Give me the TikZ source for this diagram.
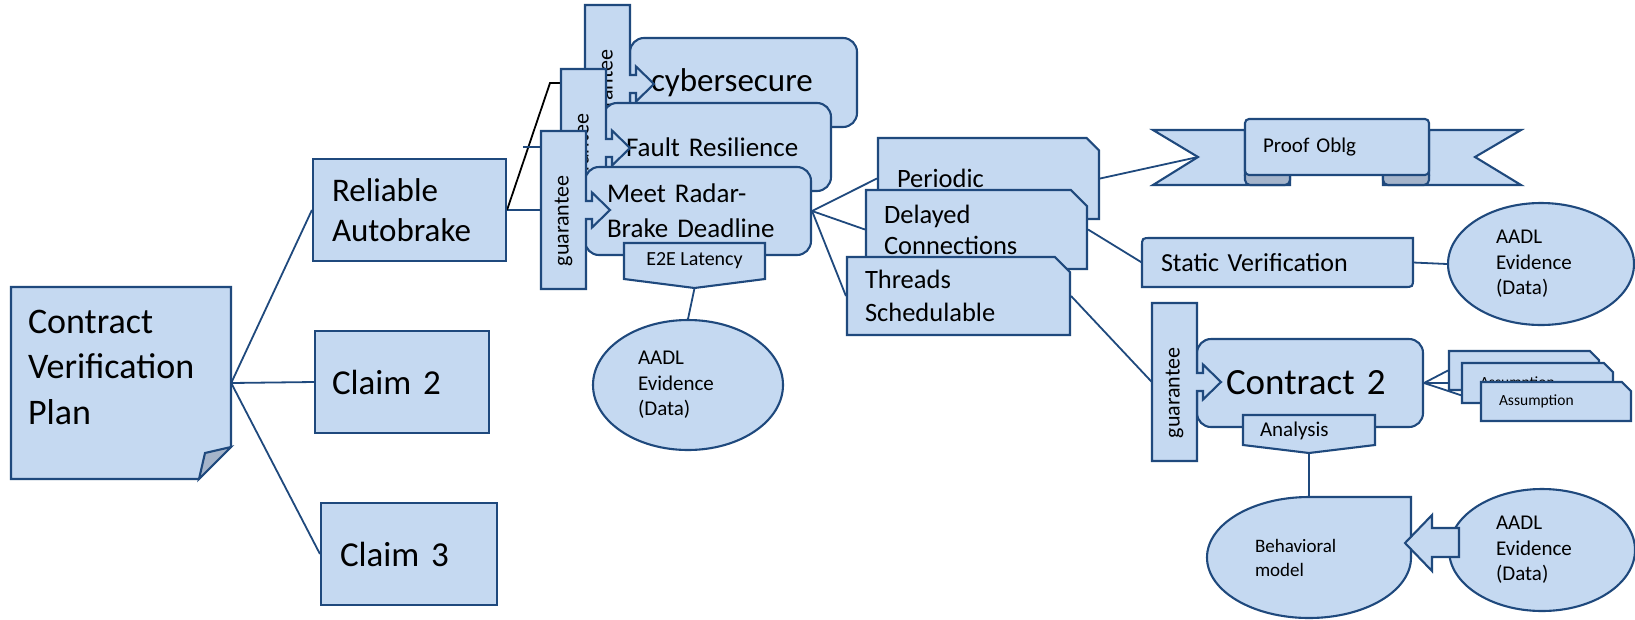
\documentclass[tikz,border=0pt]{standalone}
\usepackage{fontspec}
\setmainfont{Carlito}
\usetikzlibrary{shapes.geometric,shapes.misc,positioning}
\definecolor{boxfill}{RGB}{197,217,241}
\definecolor{edge}{RGB}{31,73,125}
\definecolor{foldfill}{RGB}{165,180,202}
\pgfdeclarelayer{background}
\pgfsetlayers{background,main}
\newcommand{\fsz}[2]{\fontsize{#1pt}{#2pt}\selectfont}
\tikzset{
 box/.style={draw=edge,fill=boxfill,line width=2.1pt},
 wire/.style={draw=edge,line width=1.8pt},
 inv/.style={inner sep=0pt,align=left},
 card/.style={box,rectangle,inner sep=0pt,align=left},
 rbox/.style={card,rounded corners=14pt},
 snip/.style={box,chamfered rectangle,chamfered rectangle corners=north east,chamfered rectangle xsep=#1,inner sep=0pt,align=left},
 blob/.style={box,ellipse,inner sep=0pt,align=left},
 gtxt/.style={rotate=90,inner sep=0pt,font=\fsz{22}{26}},
}
\newcommand{\guar}[3]{%
 \filldraw[box] (#2,#3) -- ++(45,0) -- ++(0,70) -- ++(6,0) -- ++(0,-8.5) -- ++(18,17.5)
  -- ++(-18,17.5) -- ++(0,-8.5) -- ++(-6,0) -- ++(0,70) -- ++(-45,0) -- cycle;
 \node[gtxt,minimum width=158pt,minimum height=45pt] (#1) at (#2+22.5,#3+79) {guarantee\hspace*{22pt}};
}
\begin{document}
\begin{tikzpicture}[x=1pt,y=-1pt]
 \useasboundingbox (0,0) rectangle (1635,619);
 \filldraw[box] (11,287) -- (231,287) -- (231,447) -- (199,479) -- (11,479) -- cycle;
 \filldraw[box,fill=foldfill] (199,479) -- (205,453) -- (231,447) -- cycle;
 \node[inv,minimum width=220pt,minimum height=192pt,text width=186pt,text depth=123pt,font=\fsz{36}{45.5}] (cvp) at (121,383) {Contract\\Verification\\Plan};
 \node[card,minimum width=193pt,minimum height=102pt,text width=155pt,font=\fsz{33}{40}] (rel) at (409.5,210) {Reliable\\Autobrake};
 \node[card,minimum width=174pt,minimum height=102pt,text width=140pt,font=\fsz{35}{42}] (cl2) at (402,382) {Claim 2};
 \node[card,minimum width=176pt,minimum height=102pt,text width=138pt,font=\fsz{35}{42}] (cl3) at (409,554) {Claim 3};

 \node[rbox,minimum width=227pt,minimum height=89pt,text width=185pt,font=\fsz{33}{40}] (cyb) at (743.5,82.5) {cybersecure};
 \guar{g1}{585}{5}
 \node[rbox,minimum width=228pt,minimum height=88pt,text width=182pt,font=\fsz{27}{35}] (flt) at (717,147) {Fault Resilience};
 \guar{g2}{561}{69}
 \node[rbox,minimum width=226pt,minimum height=88pt,text width=182pt,font=\fsz{27}{35}] (mrb) at (698,211) {Meet Radar-\\Brake Deadline};
 \guar{g3}{541}{131}
 \filldraw[box] (624,243) -- (765,243) -- (765,279) -- (694.5,288) -- (624,279) -- cycle;
 \node[inv,minimum width=141pt,minimum height=45pt,text height=13pt,text depth=13pt,font=\fsz{20}{24}] (e2e) at (694.5,265.5) {E2E Latency};
 \node[blob,minimum width=190pt,minimum height=130pt,text width=100pt,font=\fsz{21}{25.5}] (ad1) at (688,385) {AADL\\Evidence\\(Data)};
 \coordinate (bend) at (550,83);
 \coordinate (frag) at (523,147);

 \node[snip=13pt,minimum width=221pt,minimum height=81pt,text width=183pt,font=\fsz{26.5}{31}] (per) at (988.5,178.5) {Periodic};
 \node[snip=13pt,minimum width=221pt,minimum height=79pt,text width=185pt,font=\fsz{26.5}{31}] (dly) at (976.5,229.5) {Delayed\\Connections};
 \node[snip=12pt,minimum width=223pt,minimum height=78pt,text width=187pt,font=\fsz{26.5}{33}] (thr) at (958.5,296) {Threads\\Schedulable};

 \filldraw[box] (1245,130) -- (1153,130) -- (1198,157) -- (1153,185) -- (1290,185) -- (1290,175) -- (1245,175) -- cycle;
 \filldraw[box] (1429,130) -- (1521,130) -- (1475,157) -- (1521,185) -- (1383,185) -- (1383,175) -- (1429,175) -- cycle;
 \filldraw[box,fill=foldfill,rounded corners=5pt] (1245,170) rectangle (1290,185);
 \filldraw[box,fill=foldfill,rounded corners=5pt] (1383,170) rectangle (1429,185);
 \node[card,rounded corners=4pt,minimum width=184pt,minimum height=56pt,text width=148pt,font=\fsz{21}{25}] (pob) at (1337,147) {Proof Oblg};
 \coordinate (notch) at (1198,157);

 \filldraw[box] (1142,287) -- (1142,247) .. controls (1142,238) .. (1151,238) -- (1413,238) -- (1413,278) .. controls (1413,287) .. (1404,287) -- cycle;
 \node[inv,minimum width=271pt,minimum height=49pt,text width=233pt,font=\fsz{26}{30}] (stv) at (1277.5,262.5) {Static Verification};
 \node[blob,minimum width=186pt,minimum height=122pt,text width=90pt,font=\fsz{21}{25.5}] (ad2) at (1541,264) {AADL\\Evidence\\(Data)};

 \node[rbox,minimum width=226pt,minimum height=88pt,text width=168pt,font=\fsz{37}{44}] (ct2) at (1310,383) {Contract 2};
 \guar{g4}{1152}{303}
 \filldraw[box] (1243,415) -- (1375,415) -- (1375,445) -- (1309,453) -- (1243,445) -- cycle;
 \node[inv,minimum width=132pt,minimum height=38pt,text width=98pt,text height=15pt,text depth=10pt,font=\fsz{21}{25}] (ana) at (1309,434) {Analysis};
 \node[snip=6pt,minimum width=150pt,minimum height=39pt,text width=114pt,font=\fsz{15.5}{18}] (as1) at (1524,370.5) {Assumption};
 \node[snip=6pt,minimum width=151pt,minimum height=40pt,text width=115pt,font=\fsz{15.5}{18}] (as2) at (1537.5,383) {Assumption};
 \node[snip=6pt,minimum width=150pt,minimum height=39pt,text width=114pt,font=\fsz{15.5}{18}] (as3) at (1556,401.5) {Assumption};

 \filldraw[box] (1309,497) arc[start angle=270,end angle=0,x radius=102,y radius=60.5] -- (1411,497) -- cycle;
 \node[inv,minimum width=204pt,minimum height=121pt,text width=108pt,font=\fsz{19}{24}] (bhv) at (1309,557.5) {Behavioral\\model};
 \node[blob,minimum width=186pt,minimum height=122pt,text width=92pt,font=\fsz{21}{25.5}] (ad3) at (1542,550) {AADL\\Evidence\\(Data)};
 \filldraw[box] (1405,543) -- (1432,515) -- (1432,528) -- (1459,528) -- (1459,557) -- (1432,557) -- (1432,571) -- cycle;

 \begin{pgfonlayer}{background}
  \fill[white] (0,0) rectangle (1635,619);
  \draw[wire] (cvp.east) -- (rel.west);
  \draw[wire] (cvp.east) -- (cl2.west);
  \draw[wire] (cvp.east) -- (cl3.west);
  \draw[wire] (rel.east) -- (rel.east -| g3.north);
  \draw[wire,draw=black] (rel.east) -- (bend) -- (bend -| g2.north);
  \draw[wire] (frag) -- (frag -| g3.north);
  \draw[wire] (e2e.south) -- (ad1.north);
  \draw[wire] (mrb.east) -- (per.west);
  \draw[wire] (mrb.east) -- (dly.west);
  \draw[wire] (mrb.east) -- (thr.west);
  \draw[wire] (per.east) -- (notch);
  \draw[wire] (dly.east) -- (stv.west);
  \draw[wire] (stv.east) -- (ad2.west);
  \draw[wire] (thr.east) -- (g4.north);
  \draw[wire] (ct2.east) -- (as1.west);
  \draw[wire] (ct2.east) -- (as2.west);
  \draw[wire] (ct2.east) -- (as3.west);
  \draw[wire] (ana.south) -- (bhv.north);
 \end{pgfonlayer}
\end{tikzpicture}
\end{document}
